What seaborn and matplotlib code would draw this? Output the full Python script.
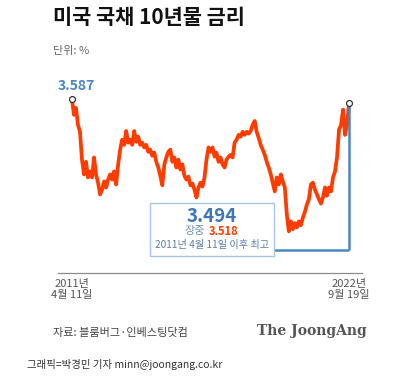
import pandas as pd
import matplotlib.pyplot as plt
import seaborn as sns

# 미국 국채 10년물 금리 (%), 2011-04-11 ~ 2022-09-19, monthly read-off
yields = [
    3.587, 3.22, 3.38, 2.99, 2.83, 2.19, 1.85, 2.14, 1.78, 1.92,
    1.78, 2.24, 1.85, 1.66, 1.39, 1.50, 1.69, 1.55, 1.73, 1.85,
    1.73, 1.92, 1.62, 2.08, 2.42, 2.65, 2.53, 2.85, 2.58, 2.65,
    2.53, 2.85, 2.60, 2.72, 2.53, 2.58, 2.47, 2.53, 2.37, 2.42,
    2.28, 2.35, 2.14, 2.01, 1.82, 1.60, 2.08, 2.24, 2.37, 2.42,
    2.14, 2.24, 2.01, 2.19, 1.96, 2.08, 1.82, 1.73, 1.80, 1.60,
    1.64, 1.50, 1.32, 1.55, 1.66, 1.57, 1.78, 2.19, 2.47, 2.37,
    2.47, 2.26, 2.35, 2.14, 2.24, 2.08, 2.01, 2.19, 2.26, 2.30,
    2.24, 2.58, 2.65, 2.76, 2.72, 2.83, 2.76, 2.83, 2.79, 2.85,
    2.99, 3.08, 2.83, 2.69, 2.53, 2.42, 2.30, 2.14, 2.01, 1.85,
    1.66, 1.46, 1.78, 1.62, 1.85, 1.69, 1.55, 0.93, 0.54, 0.77,
    0.59, 0.73, 0.63, 0.77, 0.68, 0.86, 0.99, 1.16, 1.28, 1.62,
    1.66, 1.50, 1.39, 1.28, 1.18, 1.32, 1.55, 1.36, 1.55, 1.46,
    1.78, 1.92, 2.24, 2.88, 2.99, 3.34, 2.76, 2.99, 3.494,
]
start_label = "2011년\n4월 11일"
end_label = "2022년\n9월 19일"
intraday = "3.518"

dates = pd.date_range("2011-04-11", "2022-09-19", periods=len(yields))
df = pd.DataFrame({"date": dates, "yield": yields})

sns.set_theme(style="white")
plt.rcParams["font.family"] = ["Noto Sans CJK KR", "DejaVu Sans"]

RED = "#ff3c00"
BLUE = "#4a86c4"

fig = plt.figure(figsize=(3.97, 3.83), dpi=100)
ax = fig.add_axes([0.146, 0.287, 0.766, 0.556])

sns.lineplot(data=df, x="date", y="yield", color=RED, lw=2.7, ax=ax)

x0 = dates[0] - pd.Timedelta(days=211)
x1 = dates[-1] + pd.Timedelta(days=196)
ax.set_xlim(x0, x1)
ax.set_ylim(-0.42, 4.48)

# connector from latest value down and over to the box
y_conn = -0.42 + 0.107 * 4.9
box_right = x0 + 0.711 * (x1 - x0)
ax.plot([dates[-1], dates[-1]], [yields[-1], y_conn], color=BLUE, lw=1.8,
        solid_capstyle="butt", zorder=3)
ax.plot([box_right, dates[-1]], [y_conn, y_conn], color=BLUE, lw=1.8,
        solid_capstyle="butt", zorder=3)

ax.scatter([dates[0], dates[-1]], [yields[0], yields[-1]], s=18,
           facecolor="white", edgecolor="#333333", linewidth=0.9, zorder=5)

ax.annotate(f"{yields[0]:.3f}", xy=(dates[0], yields[0]), xytext=(3, 4),
            textcoords="offset points", ha="center", va="bottom",
            color=BLUE, fontsize=10, fontweight="bold")

# annotation box
box = plt.Rectangle((0.303, 0.079), 0.408, 0.248, transform=ax.transAxes,
                    facecolor="white", edgecolor="#a9c6e6", lw=1.0, zorder=4)
ax.add_patch(box)
ax.text(0.507, 0.268, f"{yields[-1]:.3f}", transform=ax.transAxes,
        ha="center", va="center", color="#3f77b3", fontsize=13.5,
        fontweight="bold", zorder=6)
ax.text(0.485, 0.196, "장중", transform=ax.transAxes, ha="right",
        va="center", color="#7890ab", fontsize=8, zorder=6)
ax.text(0.497, 0.196, intraday, transform=ax.transAxes, ha="left",
        va="center", color=RED, fontsize=8, fontweight="bold", zorder=6)
ax.text(0.507, 0.131, "2011년 4월 11일 이후 최고", transform=ax.transAxes,
        ha="center", va="center", color="#5f7fa3", fontsize=7.3, zorder=6)

# axes styling
for side in ["top", "right", "left"]:
    ax.spines[side].set_visible(False)
ax.spines["bottom"].set_color("#8c8c8c")
ax.spines["bottom"].set_linewidth(0.9)
ax.set_yticks([])
ax.set_xticks([dates[0], dates[-1]], labels=[start_label, end_label])
ax.tick_params(axis="x", direction="in", length=4.5, width=0.8,
               color="#8c8c8c", pad=4, labelsize=8, labelcolor="#555555")
for lab in ax.get_xticklabels():
    lab.set_multialignment("center")
    lab.set_linespacing(1.15)
ax.set_xlabel("")
ax.set_ylabel("")

# titles and footer
fig.text(53 / 397, 1 - 18 / 383, "미국 국채 10년물 금리", ha="left", va="center",
         fontsize=15, fontweight="bold", color="#111111")
fig.text(53 / 397, 1 - 51 / 383, "단위: %", ha="left", va="center",
         fontsize=8, color="#666666")
fig.text(53 / 397, 1 - 333 / 383, "자료: 블룸버그·인베스팅닷컴", ha="left",
         va="center", fontsize=8, color="#444444")
fig.text(367 / 397, 1 - 331 / 383, "The JoongAng", ha="right", va="center",
         fontsize=10, fontweight="bold", color="#555555",
         family=["DejaVu Serif"])
fig.text(27 / 397, 1 - 364 / 383, "그래픽=박경민 기자 minn@joongang.co.kr",
         ha="left", va="center", fontsize=7.5, color="#333333")

fig.savefig("out.png", dpi=100, facecolor="white")
